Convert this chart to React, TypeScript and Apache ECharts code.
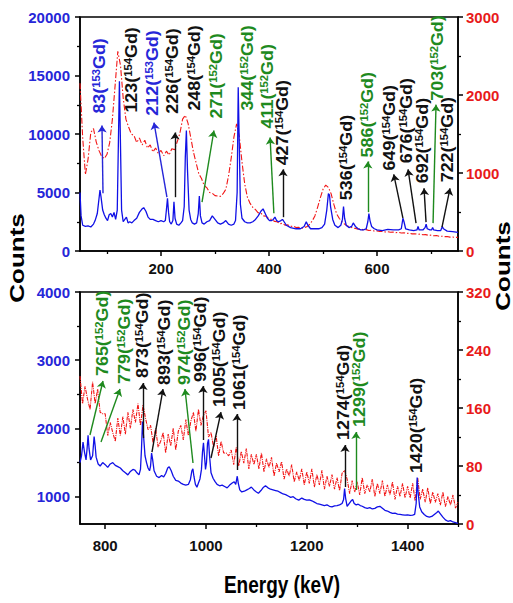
import React, { useEffect, useRef } from "react";
import * as echarts from "echarts";

const FONT = '"Liberation Sans", Arial, Helvetica, sans-serif';
const BLUE_LINE = "#1010e6";
const BLUE_TEXT = "#2626d8";
const RED_LINE = "#f21616";
const RED_TEXT = "#e81a1a";
const GREEN = "#1e8a1e";
const BLACK = "#111111";

// ---- tick values ----
const topXTicks = [200, 400, 600];
const topXMinor = [100, 300, 500, 700];
const botXTicks = [800, 1000, 1200, 1400];
const botXMinor = [900, 1100, 1300, 1500];
const topLeftTicks = [0, 5000, 10000, 15000, 20000];
const topLeftMinor = [2500, 7500, 12500, 17500];
const topRightTicks = [0, 1000, 2000, 3000];
const topRightMinor = [500, 1500, 2500];
const botLeftTicks = [1000, 2000, 3000, 4000];
const botLeftMinor = [1500, 2500, 3500];
const botRightTicks = [0, 80, 160, 240, 320];
const botRightMinor = [40, 120, 200, 280];

// ---- top panel blue spectrum [keV, counts] (left axis) ----
const blueTop: number[][] = [
  [50, 5000], [52, 3000], [55, 2200], [60, 2100], [65, 2150], [70, 2050], [75, 2300], [78, 2600], [82, 3200], [85, 4400],
  [87, 5200], [89, 4600], [92, 3500], [95, 3100], [98, 2800], [101, 2600], [104, 3100], [107, 3200], [110, 2900], [113, 3300],
  [116, 2700], [119, 3500], [121, 9000], [123, 14500], [125, 9000], [127, 3500], [130, 2500], [133, 2700], [136, 2900], [139, 2400],
  [142, 2500], [146, 2400], [150, 2600], [155, 2800], [160, 3300], [165, 3600], [168, 3700], [172, 3400], [176, 2900], [180, 2700],
  [185, 2700], [190, 2600], [195, 2500], [200, 2600], [205, 2500], [208, 2600], [210, 3500], [212, 4500], [214, 3300], [216, 2500],
  [219, 2300], [222, 2600], [224, 4200], [226, 2800], [229, 2300], [233, 2200], [237, 2400], [240, 2600], [243, 3800], [245, 8000],
  [247, 10300], [249, 7000], [252, 3500], [255, 2700], [258, 2400], [262, 2300], [266, 2400], [269, 3200], [271, 4700], [273, 3000],
  [276, 2400], [280, 2300], [285, 2500], [290, 2600], [295, 3000], [300, 2700], [305, 2400], [310, 2300], [315, 2400], [320, 2600],
  [325, 2300], [330, 2200], [335, 2300], [338, 2600], [341, 5000], [343, 14000], [345, 9000], [347, 4000], [350, 2800], [355, 2500],
  [360, 2400], [365, 2400], [370, 2500], [375, 2700], [380, 3000], [385, 3400], [389, 3600], [393, 3200], [397, 2800], [401, 2600],
  [405, 2600], [408, 2700], [411, 2900], [414, 2600], [418, 2500], [422, 2600], [425, 2700], [428, 2500], [432, 2200], [440, 2000],
  [450, 1900], [458, 1900], [465, 2100], [469, 2500], [472, 2200], [477, 1900], [485, 1900], [492, 1900], [498, 2000], [503, 2300],
  [507, 3500], [510, 4900], [512, 4800], [514, 3800], [518, 2700], [522, 2200], [528, 2000], [533, 2200], [536, 2700], [538, 3800],
  [540, 2800], [543, 2200], [548, 2000], [553, 2100], [556, 2400], [560, 2100], [565, 1900], [570, 1800], [575, 1800], [580, 1900],
  [583, 2500], [585, 3200], [587, 2600], [590, 2100], [595, 1900], [600, 1800], [610, 1750], [620, 1850], [630, 1800], [640, 1800],
  [645, 1900], [648, 2800], [650, 2500], [653, 1900], [660, 1800], [668, 1750], [674, 1800], [676, 2100], [678, 1800], [685, 1800],
  [689, 2000], [691, 2300], [693, 1900], [698, 1800], [701, 1800], [703, 2000], [705, 1800], [712, 1750], [718, 1750], [721, 2100],
  [723, 1900], [730, 1700], [740, 1650], [750, 1600],
];

// ---- top panel red spectrum (right axis), every 5 keV from 50 keV ----
const redTopStart = 50;
const redTopStep = 5;
const redTop = [
  2150, 1450, 980, 1180, 1520, 1570, 1400, 1290, 1215, 1185,
  1240, 1390, 1690, 2120, 2560, 2380, 1960, 1690, 1590, 1500,
  1480, 1390, 1450, 1360, 1420, 1320, 1360, 1270, 1320, 1250,
  1290, 1220, 1280, 1230, 1310, 1300, 1400, 1510, 1690, 1740,
  1640, 1460, 1270, 1130, 990, 930, 840, 810, 750, 740,
  710, 705, 700, 735, 790, 960, 1190, 1460, 1630, 1470,
  1140, 860, 690, 610, 560, 530, 490, 485, 450, 445,
  410, 405, 380, 375, 350, 355, 330, 335, 315, 320,
  300, 305, 290, 300, 310, 340, 385, 450, 560, 680,
  790, 845, 815, 735, 600, 480, 420, 375, 345, 320,
  315, 295, 290, 280, 282, 270, 274, 262, 266, 256,
  258, 250, 252, 244, 248, 240, 242, 236, 238, 230,
  233, 225, 228, 220, 222, 214, 216, 208, 210, 202,
  203, 196, 198, 190, 190, 184, 185, 178, 180, 174,
  176,
];

// ---- bottom panel blue spectrum [keV, counts] (left axis) ----
const blueBottom: number[][] = [
  [750, 1500], [753, 1600], [756, 1800], [759, 1650], [762, 1540], [764, 1700], [766, 1900], [768, 1700], [771, 1540], [775, 1600],
  [778, 1880], [780, 1750], [782, 1580], [786, 1480], [790, 1450], [795, 1500], [800, 1470], [805, 1430], [810, 1480], [815, 1500],
  [820, 1460], [825, 1440], [830, 1420], [835, 1380], [840, 1350], [845, 1320], [850, 1370], [855, 1400], [859, 1390], [863, 1350],
  [867, 1320], [870, 1400], [872, 1700], [874, 2100], [876, 1900], [879, 1600], [882, 1500], [885, 1420], [888, 1380], [890, 1450],
  [892, 1640], [894, 1550], [897, 1380], [902, 1300], [907, 1280], [912, 1310], [916, 1290], [920, 1340], [924, 1420], [927, 1440],
  [931, 1380], [935, 1300], [940, 1240], [945, 1230], [950, 1200], [955, 1180], [960, 1170], [965, 1180], [969, 1250], [972, 1380],
  [974, 1410], [976, 1300], [979, 1180], [982, 1140], [985, 1200], [988, 1260], [991, 1400], [993, 1650], [995, 1790], [997, 1600],
  [999, 1400], [1001, 1500], [1003, 1780], [1005, 1840], [1007, 1600], [1010, 1350], [1014, 1270], [1018, 1220], [1022, 1180], [1027, 1160],
  [1032, 1170], [1037, 1150], [1042, 1130], [1047, 1170], [1052, 1200], [1056, 1220], [1059, 1180], [1062, 1300], [1064, 1200], [1067, 1100],
  [1071, 1070], [1076, 1080], [1081, 1100], [1086, 1120], [1090, 1140], [1095, 1100], [1100, 1070], [1104, 1050], [1109, 1090], [1113, 1130],
  [1118, 1160], [1123, 1130], [1128, 1110], [1133, 1100], [1138, 1090], [1143, 1080], [1148, 1060], [1153, 1040], [1158, 1030], [1163, 1010],
  [1168, 990], [1173, 1000], [1178, 970], [1184, 950], [1190, 980], [1195, 960], [1200, 950], [1205, 955], [1210, 940], [1215, 920],
  [1220, 900], [1225, 890], [1230, 880], [1235, 870], [1240, 880], [1245, 860], [1250, 850], [1255, 865], [1260, 870], [1265, 880],
  [1270, 900], [1273, 960], [1275, 1120], [1277, 980], [1280, 860], [1284, 900], [1288, 940], [1291, 960], [1294, 900], [1298, 880],
  [1302, 890], [1306, 870], [1310, 860], [1315, 840], [1320, 830], [1325, 840], [1330, 820], [1335, 830], [1340, 850], [1345, 860],
  [1350, 830], [1355, 800], [1360, 790], [1365, 770], [1370, 755], [1375, 760], [1380, 745], [1385, 740], [1390, 735], [1395, 730],
  [1400, 735], [1405, 725], [1410, 730], [1414, 740], [1417, 900], [1419, 1280], [1421, 1050], [1424, 850], [1428, 780], [1433, 740],
  [1438, 710], [1443, 700], [1448, 710], [1453, 740], [1458, 770], [1461, 790], [1465, 750], [1470, 700], [1475, 660], [1480, 640],
  [1485, 650], [1490, 630], [1495, 620], [1500, 610],
];

// ---- bottom panel red spectrum (right axis), every 5 keV from 750 keV ----
const redBottomStart = 750;
const redBottomStep = 5;
const redBottom = [
  204, 166, 190, 172, 158, 196, 166, 186, 154, 152,
  152, 122, 140, 126, 114, 146, 122, 148, 124, 154,
  132, 158, 140, 166, 136, 164, 146, 130, 136, 112,
  132, 106, 114, 126, 98, 124, 108, 132, 102, 128,
  136, 116, 144, 122, 142, 154, 128, 158, 136, 150,
  156, 120, 126, 106, 122, 94, 114, 98, 98, 94,
  102, 82, 106, 80, 100, 84, 104, 76, 96, 82,
  96, 76, 98, 72, 90, 78, 92, 66, 84, 72,
  86, 62, 76, 66, 82, 58, 72, 60, 76, 54,
  72, 56, 76, 51, 68, 54, 74, 48, 66, 52,
  68, 48, 64, 46, 70, 74, 62, 42, 60, 44,
  58, 40, 64, 42, 54, 44, 62, 38, 56, 42,
  60, 38, 54, 40, 58, 34, 52, 38, 56, 36,
  52, 36, 56, 32, 64, 34, 48, 30, 50, 28,
  44, 30, 42, 26, 44, 24, 38, 26, 40, 22,
  30,
];

// ---- peak annotations ----
const topPeaks = [83, 123, 212, 226, 248, 271, 344, 411, 427, 536, 586, 649, 676, 692, 703, 722];
const topIsotopes = ["153", "154", "153", "154", "154", "152", "152", "152", "154", "154", "152", "154", "154", "154", "152", "154"];
const botPeaks = [765, 779, 873, 893, 974, 996, 1005, 1061, 1274, 1299, 1420];
const botIsotopes = ["152", "152", "154", "154", "152", "154", "154", "154", "154", "152", "154"];

// annotation layout in data units: label foot [keV, counts], arrow [keV1, c1, keV2, c2]
const topLabelAt = [
  [87, 11744], [146, 11830], [185, 11570], [222, 11740], [263, 12000], [304, 11320], [361, 12000], [398, 10470],
  [426, 7320], [544, 4340], [583, 8000], [624, 6890], [655.6, 7490], [685.2, 5790], [713, 12850], [731.5, 5870],
];
const topArrows: (number[] | null)[] = [
  [92.6, 4936, 90.7, 10723], null, [211, 4600, 187, 10980], [226, 4600, 226, 10130], null, [276, 4170, 298, 10300], null,
  [409, 3230, 402, 9700], [426, 2890, 426, 6980], null, [583, 3320, 583, 7660], [648, 2810, 631, 6550],
  [672.3, 2383, 657.5, 6980], [690.8, 2468, 687.1, 5361], [703.8, 2383, 709.3, 12510], [720.4, 2042, 735.2, 5361],
];
const botLabelAt = [
  [795.6, 2769], [839.3, 2652], [875, 2740], [918.6, 2637], [958.3, 2637], [990.1, 2681], [1027.8, 2315], [1067.4, 2271],
  [1273.8, 1831], [1305.5, 2022], [1418.6, 1347],
];
const botArrows: (number[] | null)[] = [
  [769.8, 1904, 795.6, 2696], [791.7, 1802, 829.4, 2578], [875, 1860, 875, 2666], [892.8, 1655, 914.7, 2578],
  [974.2, 1494, 958.3, 2578], [994, 1831, 994, 2622], [1009.9, 1567, 1029.7, 2241], [1061.5, 1391, 1061.5, 2212],
  [1275.8, 1142, 1275.8, 1758], [1297.6, 1098, 1297.6, 1948], null,
];

const isoColor = (iso: string) => (iso === "153" ? BLUE_TEXT : iso === "152" ? GREEN : BLACK);

const tickFont = { fontSize: 15, fontWeight: "bold" as const, fontFamily: FONT };
const plain = (v: number) => String(v);

function xAxisMain(grid: number, min: number, max: number, ticks: number[], margin: number) {
  return {
    type: "value", gridIndex: grid, min, max, position: "bottom",
    axisLine: { show: true, onZero: false, lineStyle: { color: "#000", width: 1.5 } },
    axisTick: { show: true, inside: false, length: 5, customValues: ticks, lineStyle: { color: "#000", width: 1.5 } },
    axisLabel: { show: true, customValues: ticks, margin, color: BLACK, formatter: plain, ...tickFont },
    splitLine: { show: false },
  };
}
function xAxisMinor(grid: number, min: number, max: number, ticks: number[]) {
  return {
    type: "value", gridIndex: grid, min, max, position: "bottom",
    axisLine: { show: false, onZero: false },
    axisTick: { show: true, inside: false, length: 3, customValues: ticks, lineStyle: { color: "#000", width: 1.3 } },
    axisLabel: { show: false },
    splitLine: { show: false },
  };
}
function yAxisMain(grid: number, pos: string, min: number, max: number, ticks: number[], color: string) {
  return {
    type: "value", gridIndex: grid, min, max, position: pos,
    axisLine: { show: true, onZero: false, lineStyle: { color: "#000", width: 1.5 } },
    axisTick: { show: true, inside: false, length: 5, customValues: ticks, lineStyle: { color: "#000", width: 1.5 } },
    axisLabel: { show: true, customValues: ticks, margin: pos === "left" ? 10 : 8, color, formatter: plain, ...tickFont },
    splitLine: { show: false },
  };
}
function yAxisMinor(grid: number, pos: string, min: number, max: number, ticks: number[]) {
  return {
    type: "value", gridIndex: grid, min, max, position: pos,
    axisLine: { show: false, onZero: false },
    axisTick: { show: true, inside: false, length: 3, customValues: ticks, lineStyle: { color: "#000", width: 1.3 } },
    axisLabel: { show: false },
    splitLine: { show: false },
  };
}

function arrowData(arrows: (number[] | null)[], isos: string[]) {
  const out: any[] = [];
  arrows.forEach((a, i) => {
    if (!a) return;
    const c = isoColor(isos[i]);
    out.push([
      { coord: [a[0], a[1]], symbol: "none", lineStyle: { color: c, width: 1.4, type: "solid" } },
      { coord: [a[2], a[3]], symbol: "arrow", symbolSize: 7, itemStyle: { color: c } },
    ]);
  });
  return out;
}

function peakLabel(x: number, y: number, e: number, iso: string) {
  const c = isoColor(iso);
  return {
    type: "text", x, y, rotation: Math.PI / 2, scaleX: 1.12, scaleY: 1, silent: true, z: 100,
    style: {
      text: `{n|${e}(}{s|${iso}}{n|Gd)}`,
      align: "left", verticalAlign: "middle", fill: c,
      rich: {
        n: { fontSize: 16, fontWeight: "bold", fontFamily: FONT, fill: c, lineHeight: 18 },
        s: { fontSize: 10, fontWeight: "bold", fontFamily: FONT, fill: c, verticalAlign: "top", lineHeight: 11, padding: [0, 0, 6, 0] },
      },
    },
  };
}

export default function App() {
  const ref = useRef<HTMLDivElement>(null);
  useEffect(() => {
    if (!ref.current) return;
    const chart = echarts.init(ref.current, null, { renderer: "svg" });
    const option: any = {
      animation: false,
      backgroundColor: "#ffffff",
      grid: [
        { left: 80, top: 17, width: 378, height: 234, show: true, borderColor: "#000", borderWidth: 1.5, backgroundColor: "transparent" },
        { left: 80, top: 292, width: 378, height: 232, show: true, borderColor: "#000", borderWidth: 1.5, backgroundColor: "transparent" },
      ],
      xAxis: [
        xAxisMain(0, 50, 750, topXTicks, 10),
        xAxisMinor(0, 50, 750, topXMinor),
        xAxisMain(1, 750, 1500, botXTicks, 14),
        xAxisMinor(1, 750, 1500, botXMinor),
      ],
      yAxis: [
        yAxisMain(0, "left", 0, 20000, topLeftTicks, BLUE_TEXT),
        yAxisMain(0, "right", 0, 3000, topRightTicks, RED_TEXT),
        yAxisMinor(0, "left", 0, 20000, topLeftMinor),
        yAxisMinor(0, "right", 0, 3000, topRightMinor),
        yAxisMain(1, "left", 600, 4000, botLeftTicks, BLUE_TEXT),
        yAxisMain(1, "right", 0, 320, botRightTicks, RED_TEXT),
        yAxisMinor(1, "left", 600, 4000, botLeftMinor),
        yAxisMinor(1, "right", 0, 320, botRightMinor),
      ],
      series: [
        {
          type: "line", xAxisIndex: 0, yAxisIndex: 1, symbol: "none", z: 2,
          data: redTop.map((v, i) => [redTopStart + i * redTopStep, v]),
          lineStyle: { color: RED_LINE, width: 1.1, type: [6, 2, 1.5, 2] },
        },
        {
          type: "line", xAxisIndex: 0, yAxisIndex: 0, symbol: "none", z: 3,
          data: blueTop,
          lineStyle: { color: BLUE_LINE, width: 1.3 },
          markLine: {
            silent: true, animation: false, symbol: ["none", "arrow"], symbolSize: 7,
            label: { show: false }, emphasis: { disabled: true },
            data: arrowData(topArrows, topIsotopes),
          },
        },
        {
          type: "line", xAxisIndex: 2, yAxisIndex: 5, symbol: "none", z: 2,
          data: redBottom.map((v, i) => [redBottomStart + i * redBottomStep, v]),
          lineStyle: { color: RED_LINE, width: 1.1, type: [4, 1, 1, 1] },
        },
        {
          type: "line", xAxisIndex: 2, yAxisIndex: 4, symbol: "none", z: 3,
          data: blueBottom,
          lineStyle: { color: BLUE_LINE, width: 1.3 },
          markLine: {
            silent: true, animation: false, symbol: ["none", "arrow"], symbolSize: 7,
            label: { show: false }, emphasis: { disabled: true },
            data: arrowData(botArrows, botIsotopes),
          },
        },
      ],
    };
    chart.setOption(option);

    const graphics: any[] = [];
    topPeaks.forEach((p, i) => {
      const pt = chart.convertToPixel({ xAxisIndex: 0, yAxisIndex: 0 } as any, topLabelAt[i]) as number[];
      if (pt) graphics.push(peakLabel(pt[0], pt[1], p, topIsotopes[i]));
    });
    botPeaks.forEach((p, i) => {
      const pt = chart.convertToPixel({ xAxisIndex: 2, yAxisIndex: 4 } as any, botLabelAt[i]) as number[];
      if (pt) graphics.push(peakLabel(pt[0], pt[1], p, botIsotopes[i]));
    });
    graphics.push({
      type: "text", x: 17, y: 258, rotation: Math.PI / 2, scaleX: 1.3, silent: true,
      style: { text: "Counts", fontSize: 20, fontWeight: "bold", fontFamily: FONT, fill: "#000", align: "center", verticalAlign: "middle" },
    });
    graphics.push({
      type: "text", x: 503, y: 266, rotation: Math.PI / 2, scaleX: 1.3, silent: true,
      style: { text: "Counts", fontSize: 20, fontWeight: "bold", fontFamily: FONT, fill: "#000", align: "center", verticalAlign: "middle" },
    });
    graphics.push({
      type: "text", x: 282, y: 585, scaleY: 1.28, silent: true,
      style: { text: "Energy (keV)", fontSize: 19, fontWeight: "bold", fontFamily: FONT, fill: "#000", align: "center", verticalAlign: "middle" },
    });
    chart.setOption({ graphic: graphics });

    return () => chart.dispose();
  }, []);
  return <div ref={ref} style={{ position: "fixed", left: 0, top: 0, width: 513, height: 603 }} />;
}
